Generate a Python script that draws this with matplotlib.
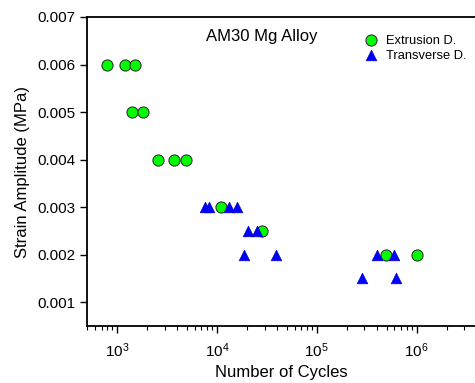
import matplotlib
matplotlib.use("Agg")
import matplotlib.pyplot as plt
from matplotlib.ticker import LogLocator, FixedLocator, NullFormatter

plt.rcParams['font.family'] = ['Liberation Sans', 'DejaVu Sans']
plt.rcParams['mathtext.fontset'] = 'custom'
plt.rcParams['mathtext.rm'] = 'Liberation Sans'
plt.rcParams['mathtext.it'] = 'Liberation Sans:italic'
plt.rcParams['mathtext.default'] = 'regular'

# Fatigue data: cycles to failure vs strain amplitude
ext_cycles = [800, 1200, 1500, 1400, 1800, 2600, 3700, 4900, 11000, 28000, 490000, 1000000]
ext_strain = [0.006, 0.006, 0.006, 0.005, 0.005, 0.004, 0.004, 0.004, 0.003, 0.0025, 0.002, 0.002]

trn_cycles = [7600, 8400, 13100, 16000, 20400, 25100, 18600, 39200, 404000, 590000, 284000, 617000]
trn_strain = [0.003, 0.003, 0.003, 0.003, 0.0025, 0.0025, 0.002, 0.002, 0.002, 0.002, 0.0015, 0.0015]

y_ticks = [0.001, 0.002, 0.003, 0.004, 0.005, 0.006, 0.007]

W, H = 475, 383
fig = plt.figure(figsize=(W / 100, H / 100), dpi=100)
ax = fig.add_axes([87 / W, 57 / H, (W - 87) / W, (326 - 17) / H])

ax.scatter(ext_cycles, ext_strain, s=64, marker='o', facecolor='#00ff00',
           edgecolor='#333333', linewidth=0.8, label='Extrusion D.', zorder=3)
ax.scatter(trn_cycles, trn_strain, s=58, marker='^', facecolor='#0000ff',
           edgecolor='#0000cc', linewidth=0.5, label='Transverse D.', zorder=3)

ax.set_xscale('log')
ax.set_xlim(500, 10 ** 6.585)
ax.set_ylim(0.0005, 0.007)
ax.yaxis.set_major_locator(FixedLocator(y_ticks))
ax.set_yticklabels([f"{v:.3f}" for v in y_ticks])
ax.xaxis.set_major_locator(LogLocator(base=10, numticks=10))
ax.xaxis.set_minor_locator(LogLocator(base=10, subs=range(2, 10), numticks=20))
ax.xaxis.set_minor_formatter(NullFormatter())

for side in ('left', 'bottom', 'top'):
    ax.spines[side].set_linewidth(1.3)
ax.spines['right'].set_visible(False)

ax.tick_params(axis='both', which='major', direction='out', length=5, width=1,
               labelsize=11, top=False, right=False)
ax.tick_params(axis='x', which='minor', direction='out', length=3, width=0.8, top=False)
ax.tick_params(axis='x', which='major', pad=6)

ax.set_xlabel('Number of Cycles', fontsize=12, labelpad=4)
ax.set_ylabel('Strain Amplitude (MPa)', fontsize=12, labelpad=5)

fig.text(261.5 / W, 1 - 36.5 / H, 'AM30 Mg Alloy', fontsize=12,
         ha='center', va='center')

ax.legend(loc='upper left', bbox_to_anchor=(356 / W, 1 - 28 / H),
          bbox_transform=fig.transFigure, frameon=False, fontsize=9.3,
          handletextpad=0.5, labelspacing=0.25, borderpad=0, handlelength=1.3,
          markerscale=1.0)

fig.savefig('out.png', dpi=100)
